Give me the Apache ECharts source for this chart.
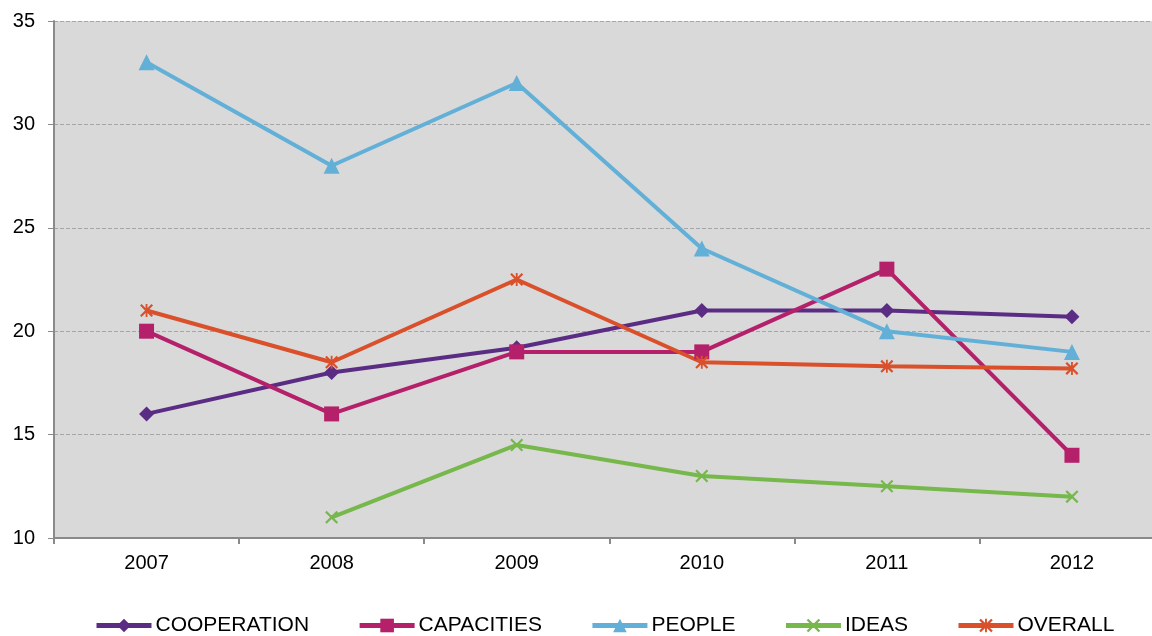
<!DOCTYPE html>
<html>
<head>
<meta charset="utf-8">
<script src="https://cdn.jsdelivr.net/npm/echarts@6/dist/echarts.min.js"></script>
<style>
  html, body { margin: 0; padding: 0; background: #fff; }
  #chart { width: 1152px; height: 636px; }
</style>
</head>
<body>
<div id="chart"></div>
<script>
// Yearly scores per programme
const years = ['2007', '2008', '2009', '2010', '2011', '2012'];
const cooperation = [16, 18, 19.2, 21, 21, 20.7];
const capacities = [20, 16, 19, 19, 23, 14];
const people = [33, 28, 32, 24, 20, 19];
const ideas = [null, 11, 14.5, 13, 12.5, 12];
const overall = [21, 18.5, 22.5, 18.5, 18.3, 18.2];
const yTicks = { min: 10, max: 35, step: 5 };

// Marker shapes drawn as filled outlines
const crossPath = 'path://M0,1.2 L1.2,0 L5,3.8 L8.8,0 L10,1.2 L6.2,5 L10,8.8 L8.8,10 L5,6.2 L1.2,10 L0,8.8 L3.8,5 Z';
const starPath = 'path://M0,1.2 L1.2,0 L5,3.8 L8.8,0 L10,1.2 L6.2,5 L10,8.8 L8.8,10 L5,6.2 L1.2,10 L0,8.8 L3.8,5 Z M4.3,0 L5.7,0 L5.7,10 L4.3,10 Z';

function line(name, data, color, symbol, size) {
  return {
    name: name,
    type: 'line',
    data: data,
    symbol: symbol,
    symbolSize: size,
    showAllSymbol: true,
    lineStyle: { color: color, width: 4 },
    itemStyle: { color: color },
    emphasis: { disabled: true },
    animation: false
  };
}

const chart = echarts.init(document.getElementById('chart'));
chart.setOption({
  backgroundColor: '#ffffff',
  textStyle: { fontFamily: 'Liberation Sans, Arial, sans-serif' },
  grid: {
    left: 54, top: 21, right: -12.5, bottom: 98,
    outerBoundsMode: 'none',
    show: true, backgroundColor: '#d9d9d9', borderWidth: 0,
    containLabel: false
  },
  legend: {
    left: 94, top: 615, padding: 0,
    itemWidth: 55, itemHeight: 17, itemGap: 48,
    lineStyle: { width: 5 },
    textStyle: { fontSize: 21, color: '#000', padding: [0, 0, 0, -1] },
    data: ['COOPERATION', 'CAPACITIES', 'PEOPLE', 'IDEAS', 'OVERALL']
  },
  xAxis: {
    type: 'category',
    data: years,
    boundaryGap: true,
    axisLine: { lineStyle: { color: '#8a8a8a', width: 2 } },
    axisTick: { show: true, length: 6, lineStyle: { color: '#8a8a8a', width: 2 } },
    axisLabel: { color: '#000', fontSize: 20, margin: 15 },
    splitLine: { show: false }
  },
  yAxis: {
    type: 'value',
    min: yTicks.min, max: yTicks.max, interval: yTicks.step,
    axisLine: { show: true, lineStyle: { color: '#8a8a8a', width: 2 } },
    axisTick: { show: true, length: 6, lineStyle: { color: '#8a8a8a', width: 1 } },
    axisLabel: { color: '#000', fontSize: 20, margin: 19 },
    splitLine: { show: true, lineStyle: { color: '#a6a6a6', type: [4, 2], width: 1 } }
  },
  series: [
    line('COOPERATION', cooperation, '#5b2c83', 'diamond', 15),
    line('CAPACITIES', capacities, '#b5206a', 'rect', 15),
    line('PEOPLE', people, '#62b0d8', 'triangle', 16),
    line('IDEAS', ideas, '#76b84b', crossPath, 13),
    line('OVERALL', overall, '#d9502b', starPath, 13)
  ]
});
</script>
</body>
</html>
